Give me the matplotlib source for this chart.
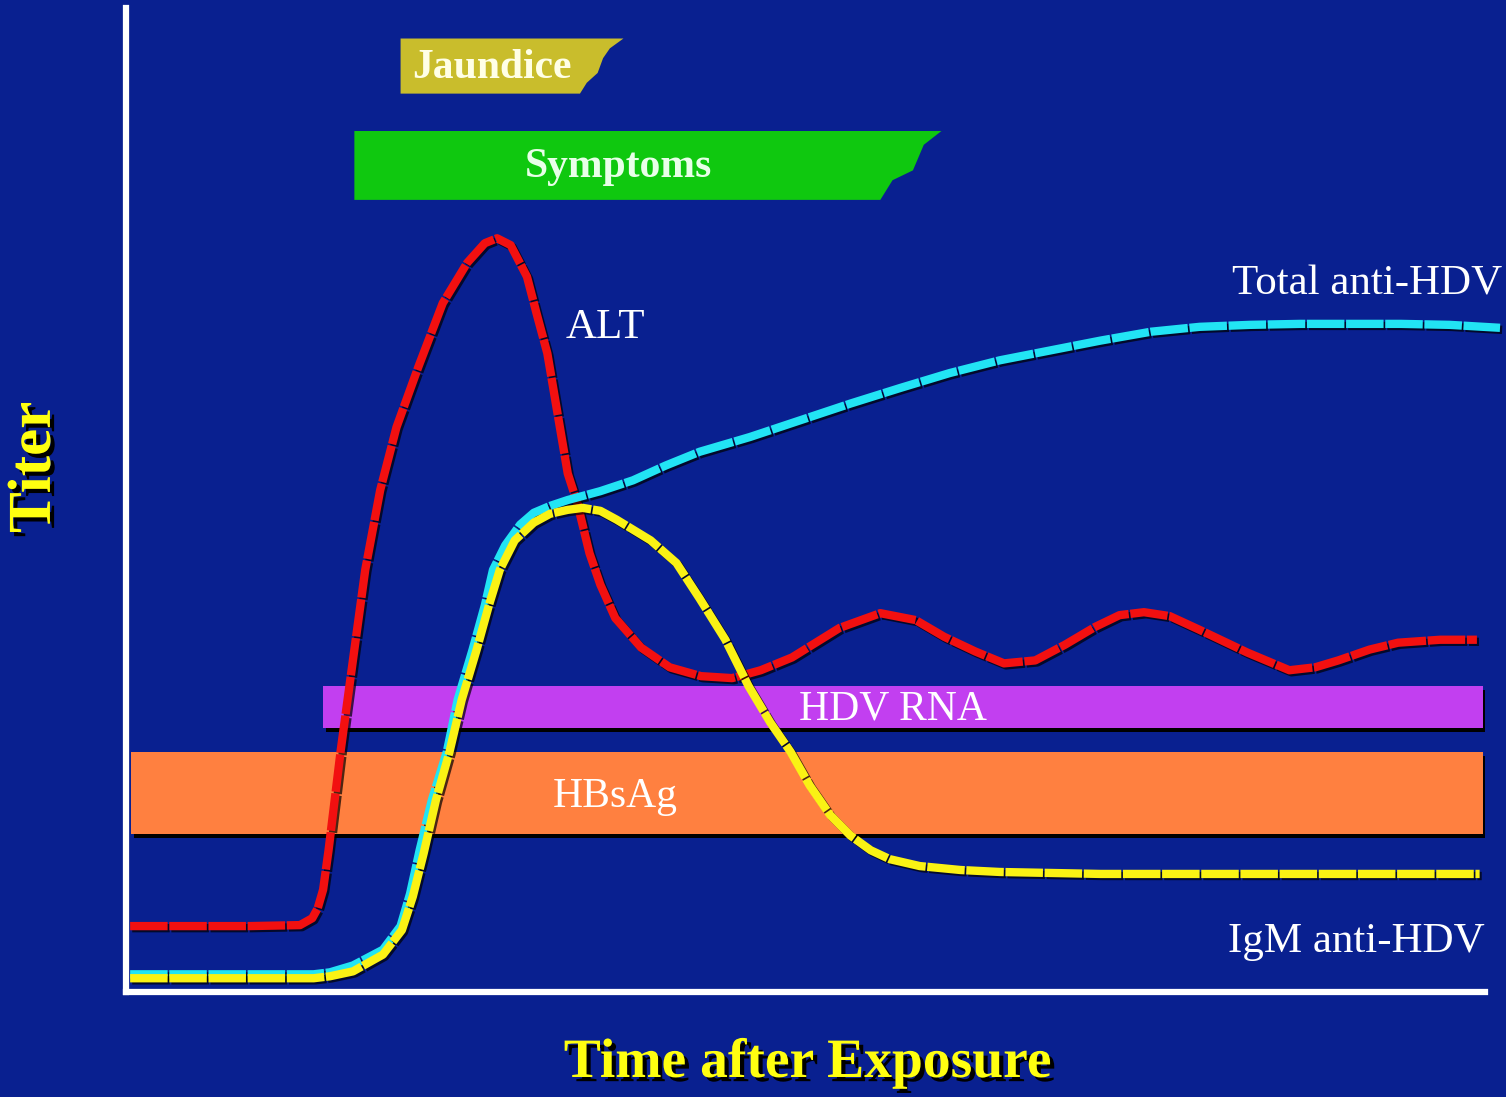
import matplotlib
matplotlib.use("Agg")
import matplotlib.pyplot as plt
import matplotlib.patheffects as pe
from matplotlib.patches import Polygon, Rectangle

plt.rcParams['font.family'] = ['Liberation Serif', 'DejaVu Serif']

# --- data (time after exposure, titer: arbitrary units 0-100) ---
alt_t = [0.3, 9.1, 12.8, 13.7, 14.1, 14.5, 14.9, 15.8, 16.8, 17.6, 18.7, 19.9,
         21.5, 23.3, 25.1, 26.4, 27.3, 28.3, 29.5, 30.2, 31.0, 31.7, 32.5, 33.2,
         34.1, 34.9, 36.0, 37.9, 40.0, 42.3, 44.6, 46.7, 49.0, 52.5, 55.5, 58.1,
         60.2, 62.5, 64.6, 66.9, 69.1, 71.3, 73.1, 74.9, 76.8, 79.0, 82.5, 85.6,
         87.5, 89.2, 91.5, 93.6, 96.7, 99.4]
alt_v = [6.7, 6.7, 6.8, 7.5, 8.5, 10.4, 14.4, 24.6, 34.8, 42.9, 51.0, 57.4,
         63.5, 70.0, 74.1, 76.1, 76.6, 75.9, 72.7, 69.0, 64.9, 59.2, 52.7, 49.7,
         44.6, 41.4, 38.0, 35.0, 33.0, 32.1, 31.9, 32.7, 34.0, 37.0, 38.5, 37.8,
         36.1, 34.6, 33.4, 33.7, 35.3, 37.1, 38.3, 38.6, 38.2, 36.8, 34.5, 32.7,
         33.0, 33.7, 34.8, 35.5, 35.8, 35.8]

total_t = [0.3, 13.8, 15.0, 16.7, 18.9, 20.2, 20.9, 21.6, 22.5, 23.6, 24.4, 25.5,
           26.4, 27.0, 27.9, 29.0, 30.0, 31.2, 32.5, 34.9, 37.3, 39.7, 42.2, 45.9,
           49.6, 53.3, 57.0, 60.6, 64.3, 68.0, 71.7, 75.4, 79.0, 82.7, 86.4, 93.8,
           97.4, 101.1]
total_v = [1.8, 1.8, 2.0, 2.7, 4.3, 6.7, 10.0, 14.4, 19.5, 24.4, 29.7, 34.8,
           39.3, 42.9, 45.4, 47.5, 48.7, 49.4, 50.0, 50.9, 52.0, 53.5, 54.9, 56.4,
           58.1, 59.8, 61.4, 62.9, 64.2, 65.2, 66.2, 67.1, 67.6, 67.8, 67.9, 67.9,
           67.8, 67.5]

igm_t = [0.3, 13.8, 15.0, 16.7, 18.9, 20.3, 21.1, 21.9, 22.8, 23.8, 24.7, 25.8,
         26.7, 27.5, 28.6, 30.0, 31.2, 32.5, 33.6, 34.9, 36.1, 38.6, 40.5, 42.2,
         44.1, 45.8, 47.4, 48.9, 50.3, 51.8, 53.3, 54.8, 56.2, 58.4, 61.4, 64.3,
         71.7, 99.6]
igm_v = [1.4, 1.4, 1.6, 2.1, 3.8, 6.3, 9.7, 14.1, 19.5, 24.4, 29.7, 34.8,
         39.3, 42.9, 45.9, 47.7, 48.6, 49.0, 49.2, 48.9, 48.0, 45.9, 43.6, 40.0,
         35.8, 31.1, 27.4, 24.4, 21.0, 18.0, 15.9, 14.4, 13.5, 12.8, 12.4, 12.2,
         12.0, 12.0]

# presence bars: start, end, bottom, top
hdv_rna = (14.5, 99.85, 26.8, 31.1)
hbsag = (0.4, 99.85, 16.1, 24.4)
# Symptoms / Jaundice banners with torn right edge
symptoms_x = [16.8, 60.0, 58.7, 57.9, 56.4, 55.5, 16.8]
symptoms_y = [87.5, 87.5, 86.1, 83.5, 82.5, 80.5, 80.5]
jaundice_x = [20.2, 36.6, 35.6, 35.1, 34.7, 33.9, 33.4, 20.2]
jaundice_y = [96.9, 96.9, 95.9, 94.9, 93.4, 92.4, 91.3, 91.3]

bg = '#092090'

fig = plt.figure(figsize=(15.06, 10.97), dpi=100)
fig.patch.set_facecolor(bg)
ax = fig.add_axes([0.0837, 0.0957, 0.9024, 0.897])
ax.set_facecolor(bg)
ax.set_xlim(0, 100)
ax.set_ylim(0, 100)
ax.set_xticks([])
ax.set_yticks([])
for s in ['top', 'right']:
    ax.spines[s].set_visible(False)
for s in ['left', 'bottom']:
    ax.spines[s].set_color('white')
    ax.spines[s].set_linewidth(4.5)

box_shadow = [pe.SimplePatchShadow(offset=(2, -3), shadow_rgbFace='black', alpha=1), pe.Normal()]

# bands
for (x0, x1, y0, y1), col in [(hdv_rna, '#C23FF0'), (hbsag, '#FF8040')]:
    r = Rectangle((x0, y0), x1 - x0, y1 - y0, facecolor=col, edgecolor='none', zorder=1)
    r.set_path_effects(box_shadow)
    ax.add_patch(r)

ax.add_patch(Polygon(list(zip(symptoms_x, symptoms_y)), closed=True,
                     facecolor='#0FC80F', edgecolor='none', zorder=1))
ax.add_patch(Polygon(list(zip(jaundice_x, jaundice_y)), closed=True,
                     facecolor='#C9BD2C', edgecolor='none', zorder=1))

# curves
line_fx = [pe.SimpleLineShadow(offset=(1.5, -1.5), shadow_color='black', alpha=0.7), pe.Normal()]
dash = (0, (4.5, 0.2))
ax.plot(alt_t, alt_v, color='#F21010', lw=6, ls=dash, dash_capstyle='butt',
        solid_joinstyle='round', zorder=3, clip_on=False, path_effects=line_fx)
ax.plot(total_t, total_v, color='#22E4F4', lw=6, ls=dash, dash_capstyle='butt',
        zorder=3, clip_on=False, path_effects=line_fx)
ax.plot(igm_t, igm_v, color='#FAF214', lw=6, ls=dash, dash_capstyle='butt',
        zorder=4, clip_on=False, path_effects=line_fx)

# labels
ax.text(56.4, 28.7, 'HDV RNA', color='white', fontsize=30, ha='center', va='center', zorder=5)
ax.text(36.0, 19.8, 'HBsAg', color='white', fontsize=30, ha='center', va='center', zorder=5)
ax.text(36.2, 83.8, 'Symptoms', color='#E8FFE8', fontsize=30, fontweight='bold',
        ha='center', va='center', zorder=5)
ax.text(26.9, 93.9, 'Jaundice', color='#FFFFE6', fontsize=30, fontweight='bold',
        ha='center', va='center', zorder=5)
ax.text(35.3, 67.5, 'ALT', color='white', fontsize=31, ha='center', va='center', zorder=5)
ax.text(101.3, 71.9, 'Total anti-HDV', color='white', fontsize=31, ha='right',
        va='center', zorder=5, clip_on=False)
ax.text(100.0, 5.1, 'IgM anti-HDV', color='white', fontsize=31, ha='right',
        va='center', zorder=5, clip_on=False)

title_fx = [pe.withSimplePatchShadow(offset=(3, -3), shadow_rgbFace='black', alpha=1)]
fig.text(0.0232, 0.574, 'Titer', color='#FFFF10', fontsize=44, fontweight='bold',
         rotation=90, ha='center', va='center', path_effects=title_fx)
fig.text(0.536, 0.031, 'Time after Exposure', color='#FFFF10', fontsize=40,
         fontweight='bold', ha='center', va='center', path_effects=title_fx)

fig.savefig('out.png', dpi=100, facecolor=bg)
